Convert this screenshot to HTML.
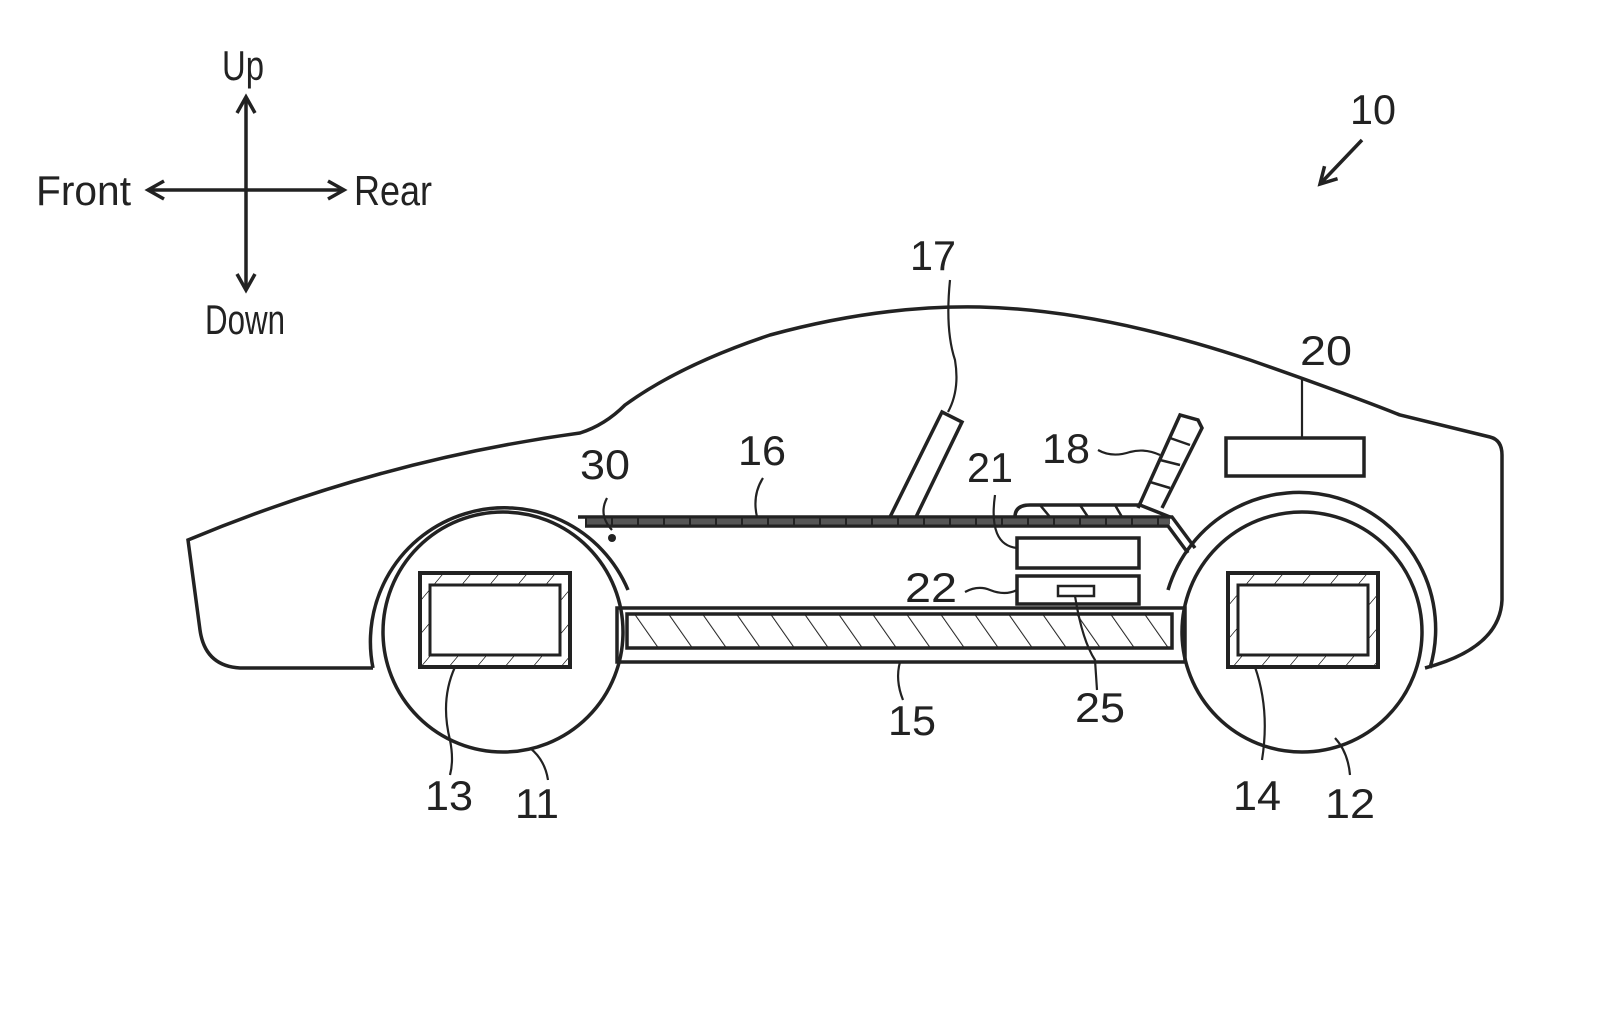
<!DOCTYPE html>
<html><head><meta charset="utf-8"><style>
html,body{margin:0;padding:0;background:#fff}
svg text{font-family:"Liberation Sans",sans-serif;font-size:42px;fill:#222}
</style></head><body>
<svg width="1600" height="1013" viewBox="0 0 1600 1013" xmlns="http://www.w3.org/2000/svg">
<defs>
<pattern id="h" width="34" height="40" patternUnits="userSpaceOnUse" patternTransform="skewX(35)">
<line x1="0" y1="0" x2="0" y2="40" stroke="#222" stroke-width="2.5"/></pattern>
<pattern id="h2" width="28" height="40" patternUnits="userSpaceOnUse" patternTransform="skewX(-40)">
<line x1="0" y1="0" x2="0" y2="40" stroke="#222" stroke-width="2"/></pattern>
<marker id="a" markerWidth="24" markerHeight="24" refX="18" refY="11" orient="auto" markerUnits="userSpaceOnUse"><path d="M2,2 L18,11 L2,20" fill="none" stroke="#222" stroke-width="3.5"/></marker>
</defs>
<g fill="none" stroke="#222" stroke-width="3.5">
<line x1="246" y1="190" x2="246" y2="97" marker-end="url(#a)"/>
<line x1="246" y1="190" x2="246" y2="290" marker-end="url(#a)"/>
<line x1="246" y1="190" x2="148" y2="190" marker-end="url(#a)"/>
<line x1="246" y1="190" x2="344" y2="190" marker-end="url(#a)"/>
<line x1="1362" y1="140" x2="1320" y2="184" marker-end="url(#a)"/>
<path d="M373,668 L240,668 Q205,666 200,630 L188,540 Q380,460 580,433 Q605,425 625,405 Q680,365 770,335 Q880,305 980,307 Q1100,310 1250,360 Q1350,395 1400,415 L1490,437 Q1502,440 1502,455 L1502,600 Q1500,648 1425,668"/>
<path d="M373,668 A134,134 0 0 1 628,590"/>
<path d="M1168,590 A134,134 0 0 1 1430,668"/>
<circle cx="503" cy="632" r="120"/>
<circle cx="1302" cy="632" r="120"/>
<rect x="420" y="573" width="150" height="94" stroke-width="4"/>
<rect x="430" y="585" width="130" height="70" stroke-width="3"/>
<rect x="1228" y="573" width="150" height="94" stroke-width="4"/>
<rect x="1238" y="585" width="130" height="70" stroke-width="3"/>
</g>
<g stroke="#222" stroke-width="2">
<path d="M420,573 h150 v94 h-150z M430,585 v70 h130 v-70z" fill="url(#h2)" fill-rule="evenodd"/>
<path d="M1228,573 h150 v94 h-150z M1238,585 v70 h130 v-70z" fill="url(#h2)" fill-rule="evenodd"/>
</g>
<g fill="none" stroke="#222" stroke-width="3.5">
<path d="M578,517 L1172,517 L1195,548"/>
<path d="M585,526 L1168,526 L1188,553"/>
<line x1="585" y1="521.5" x2="1170" y2="521.5" stroke="#555" stroke-width="6"/>
<line x1="585" y1="521.5" x2="1170" y2="521.5" stroke="#222" stroke-width="8" stroke-dasharray="2,24"/>
<path d="M617,608 L1185,608 L1185,662 L617,662 Z"/>
<rect x="627" y="614" width="545" height="34" fill="url(#h)"/>
<path d="M890,517 L942,412 L962,422 L916,517"/>
<path d="M1138,508 L1180,415 L1198,420 L1202,428 L1162,508"/>
<path d="M1150,482 L1170,488 M1160,460 L1180,465 M1170,438 L1190,445" stroke-width="2.5"/>
<path d="M1015,517 Q1015,505 1030,505 L1140,505 L1170,517"/>
<path d="M1040,505 L1050,517 M1080,505 L1088,517 M1115,505 L1122,517" stroke-width="2.5"/>
<rect x="1017" y="538" width="122" height="30"/>
<rect x="1017" y="576" width="122" height="28"/>
<rect x="1058" y="586" width="36" height="10" stroke-width="2.5"/>
<rect x="1226" y="438" width="138" height="38"/>
<g stroke-width="2.2">
<path d="M950,280 Q945,330 955,360 Q960,390 948,412"/>
<path d="M1098,450 Q1112,458 1130,452 Q1145,448 1160,455"/>
<path d="M1302,378 L1302,438"/>
<path d="M995,495 Q988,545 1017,548"/>
<path d="M965,592 Q978,585 990,590 Q1005,596 1017,590"/>
<path d="M607,498 Q598,515 612,530"/>
<path d="M763,478 Q752,495 757,517"/>
<path d="M1075,596 Q1082,640 1095,660 L1097,690"/>
<path d="M900,662 Q895,680 903,700"/>
<path d="M455,667 Q440,700 450,740 Q454,760 450,775"/>
<path d="M530,748 Q545,760 548,780"/>
<path d="M1255,667 Q1270,710 1262,760"/>
<path d="M1335,738 Q1348,752 1350,775"/>
</g>
</g>
<circle cx="612" cy="538" r="4" fill="#222"/>
<text x="222" y="80" textLength="42" lengthAdjust="spacingAndGlyphs">Up</text>
<text x="36" y="205" textLength="95" lengthAdjust="spacingAndGlyphs">Front</text>
<text x="354" y="205" textLength="78" lengthAdjust="spacingAndGlyphs">Rear</text>
<text x="205" y="334" textLength="80" lengthAdjust="spacingAndGlyphs">Down</text>
<g>
<text x="1350" y="124" textLength="46" lengthAdjust="spacingAndGlyphs">10</text>
<text x="910" y="270" textLength="46" lengthAdjust="spacingAndGlyphs">17</text>
<text x="1300" y="365" textLength="52" lengthAdjust="spacingAndGlyphs">20</text>
<text x="1042" y="463" textLength="48" lengthAdjust="spacingAndGlyphs">18</text>
<text x="967" y="482" textLength="46" lengthAdjust="spacingAndGlyphs">21</text>
<text x="738" y="465" textLength="48" lengthAdjust="spacingAndGlyphs">16</text>
<text x="580" y="479" textLength="50" lengthAdjust="spacingAndGlyphs">30</text>
<text x="905" y="602" textLength="52" lengthAdjust="spacingAndGlyphs">22</text>
<text x="888" y="735" textLength="48" lengthAdjust="spacingAndGlyphs">15</text>
<text x="1075" y="722" textLength="50" lengthAdjust="spacingAndGlyphs">25</text>
<text x="425" y="810" textLength="48" lengthAdjust="spacingAndGlyphs">13</text>
<text x="515" y="818" textLength="44" lengthAdjust="spacingAndGlyphs">11</text>
<text x="1233" y="810" textLength="48" lengthAdjust="spacingAndGlyphs">14</text>
<text x="1325" y="818" textLength="50" lengthAdjust="spacingAndGlyphs">12</text>
</g>
</svg>
</body></html>
